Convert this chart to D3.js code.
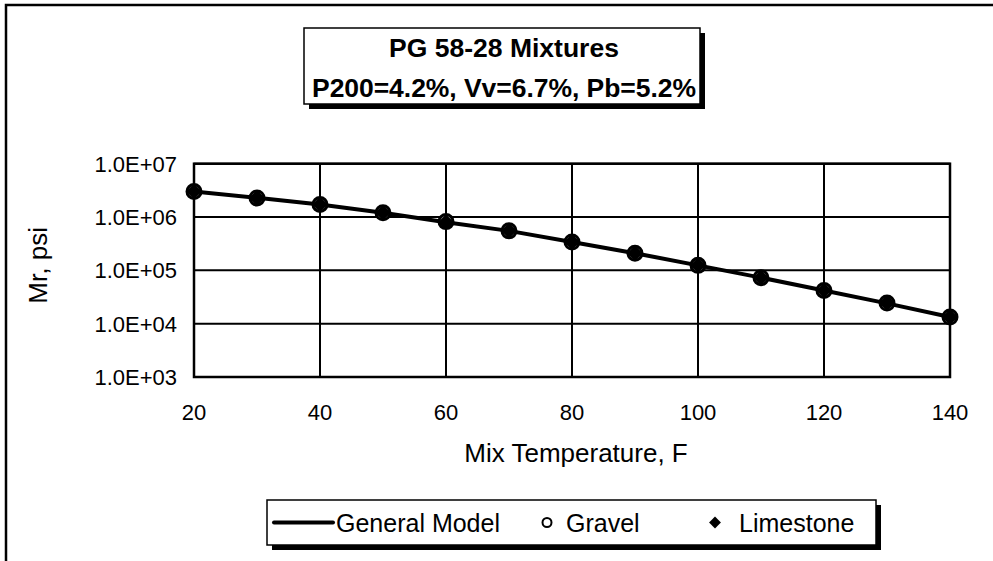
<!DOCTYPE html>
<html><head><meta charset="utf-8">
<script src="https://cdn.jsdelivr.net/npm/d3@7/dist/d3.min.js"></script>
<style>body{margin:0;background:#fff;}svg{display:block;font-family:Arial,"Liberation Sans",sans-serif;}</style>
</head><body><svg id="c" width="993" height="561"></svg>
<script>
const temps = [20,30,40,50,60,70,80,90,100,110,120,130,140];
const generalModel = [3.0e6,2.3e6,1.72e6,1.2e6,8.0e5,5.5e5,3.4e5,2.1e5,1.24e5,7.3e4,4.2e4,2.4e4,1.33e4];
const gravel      = [3.0e6,2.28e6,1.72e6,1.2e6,8.2e5,5.5e5,3.4e5,2.1e5,1.24e5,7.3e4,4.2e4,2.44e4,1.33e4];
const limestone   = [3.0e6,2.28e6,1.72e6,1.2e6,8.0e5,5.5e5,3.4e5,2.1e5,1.24e5,7.3e4,4.2e4,2.44e4,1.33e4];
const xTicks = [20,40,60,80,100,120,140];
const yTicks = [1e3,1e4,1e5,1e6,1e7];
const yTickLabels = ["1.0E+03","1.0E+04","1.0E+05","1.0E+06","1.0E+07"];
const titleLines = ["PG 58-28 Mixtures","P200=4.2%, Vv=6.7%, Pb=5.2%"];
const xTitle = "Mix Temperature, F";
const yTitle = "Mr, psi";
const legendNames = ["General Model","Gravel","Limestone"];

const svg = d3.select("#c");
const L=194, R=950, T=163.7, B=377;
const x = d3.scaleLinear().domain([20,140]).range([L,R]);
const y = d3.scaleLog().domain([1e3,1e7]).range([B,T]);

// outer frame
svg.append("path").attr("d","M6,570 L6,5 L1000,5").attr("fill","none").attr("stroke","#000").attr("stroke-width",2.5);

// grid
const g = svg.append("g");
g.selectAll("line.v").data(xTicks).join("line").attr("x1",d=>x(d)).attr("x2",d=>x(d)).attr("y1",T).attr("y2",B).attr("stroke","#000").attr("stroke-width",2);
g.selectAll("line.h").data(yTicks).join("line").attr("y1",d=>y(d)).attr("y2",d=>y(d)).attr("x1",L).attr("x2",R).attr("stroke","#000").attr("stroke-width",2);
g.append("rect").attr("x",L).attr("y",T).attr("width",R-L).attr("height",B-T).attr("fill","none").attr("stroke","#000").attr("stroke-width",2.5);

// tick labels
g.selectAll("text.yt").data(yTicks).join("text").attr("x",L-17).attr("y",d=>y(d)).attr("dy","0.36em").attr("text-anchor","end").attr("font-size",22).text((d,i)=>yTickLabels[i]);
g.selectAll("text.xt").data(xTicks).join("text").attr("x",d=>x(d)).attr("y",B+35).attr("dy","0.36em").attr("text-anchor","middle").attr("font-size",22).text(d=>d);

// titles
svg.append("text").attr("x",(L+R)/2+4).attr("y",453).attr("dy","0.36em").attr("text-anchor","middle").attr("font-size",26).text(xTitle);
svg.append("text").attr("transform",`translate(38,${(T+B)/2-5}) rotate(-90)`).attr("dy","0.36em").attr("text-anchor","middle").attr("font-size",26).text(yTitle);

// data line
const line = d3.line().x((d,i)=>x(temps[i])).y(d=>y(d));
svg.append("path").datum(generalModel).attr("d",line).attr("fill","none").attr("stroke","#000").attr("stroke-width",4);
// gravel circles
svg.selectAll("circle.g").data(gravel).join("circle").attr("cx",(d,i)=>x(temps[i])).attr("cy",d=>y(d)).attr("r",7).attr("fill","#fff").attr("stroke","#000").attr("stroke-width",3);
// limestone diamonds (rotated squares)
const sq = d3.symbol().type(d3.symbolSquare).size(125);
svg.selectAll("path.l").data(limestone).join("path").attr("d",sq).attr("transform",(d,i)=>`translate(${x(temps[i])},${y(d)}) rotate(45)`).attr("fill","#000");

// title box
const tb = {x:304,y:28,w:396,h:76};
svg.append("rect").attr("x",tb.x+5).attr("y",tb.y+5).attr("width",tb.w).attr("height",tb.h).attr("fill","#000");
svg.append("rect").attr("x",tb.x).attr("y",tb.y).attr("width",tb.w).attr("height",tb.h).attr("fill","#fff").attr("stroke","#000").attr("stroke-width",1.5);
svg.selectAll("text.tt").data(titleLines).join("text").attr("x",tb.x+tb.w/2+2).attr("y",(d,i)=>tb.y+19+i*40).attr("dy","0.36em").attr("text-anchor","middle").attr("font-weight","bold").attr("font-size",26.5).attr("textLength",(d,i)=>i===1?384:null).text(d=>d);

// legend
const lb = {x:267,y:500,w:609,h:45};
svg.append("rect").attr("x",lb.x+5).attr("y",lb.y+5).attr("width",lb.w).attr("height",lb.h).attr("fill","#000");
svg.append("rect").attr("x",lb.x).attr("y",lb.y).attr("width",lb.w).attr("height",lb.h).attr("fill","#fff").attr("stroke","#000").attr("stroke-width",1.5);
const ly = lb.y+lb.h/2;
svg.append("line").attr("x1",274).attr("x2",333).attr("y1",ly).attr("y2",ly).attr("stroke","#000").attr("stroke-width",4).attr("stroke-linecap","round");
svg.append("circle").attr("cx",547).attr("cy",ly).attr("r",4.5).attr("fill","#fff").attr("stroke","#000").attr("stroke-width",2);
svg.append("path").attr("d",sq.size(70)()).attr("transform",`translate(715,${ly}) rotate(45)`).attr("fill","#000");
const lx = [336,566,739];
svg.selectAll("text.lg").data(legendNames).join("text").attr("x",(d,i)=>lx[i]).attr("y",ly).attr("dy","0.36em").attr("font-size",25).text(d=>d);
</script></body></html>
